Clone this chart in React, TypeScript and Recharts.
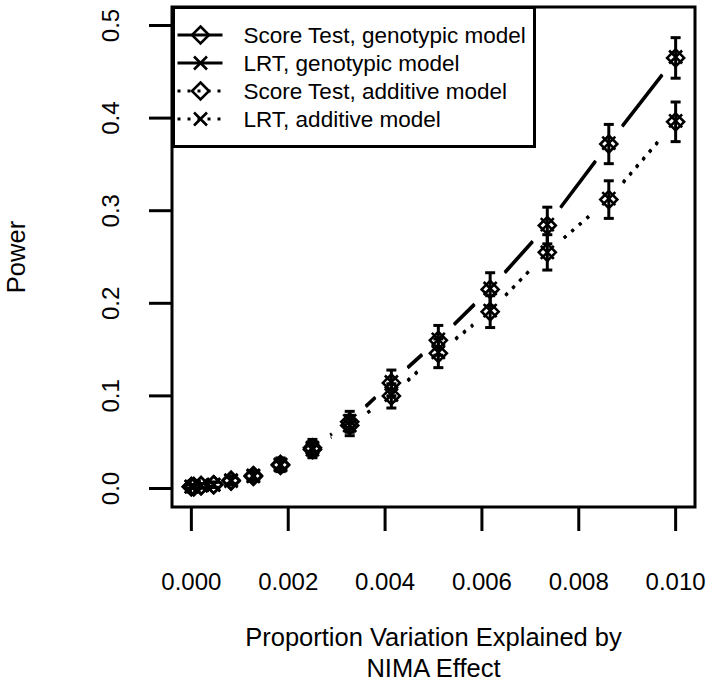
import React from 'react';
import { ComposedChart, Line, XAxis, YAxis, ErrorBar, ReferenceArea, Legend, Label } from 'recharts';

const effectSizes = [0, 0.00005, 0.0002, 0.00046, 0.00082, 0.00128, 0.00184, 0.0025, 0.00327, 0.00413, 0.0051, 0.00617, 0.00735, 0.00862, 0.01];
const scoreGenotypic = [0.002, 0.002, 0.003, 0.004, 0.009, 0.014, 0.026, 0.044, 0.072, 0.114, 0.16, 0.215, 0.284, 0.372, 0.465];
const lrtGenotypic = [0.002, 0.002, 0.003, 0.004, 0.009, 0.014, 0.026, 0.044, 0.073, 0.115, 0.161, 0.216, 0.285, 0.373, 0.466];
const scoreAdditive = [0.002, 0.002, 0.003, 0.004, 0.008, 0.013, 0.025, 0.042, 0.068, 0.1, 0.146, 0.191, 0.255, 0.312, 0.396];
const lrtAdditive = [0.002, 0.002, 0.003, 0.004, 0.008, 0.013, 0.025, 0.042, 0.068, 0.101, 0.147, 0.192, 0.255, 0.313, 0.397];
const ciGenotypic = [0.002, 0.002, 0.0024, 0.0028, 0.0041, 0.0051, 0.007, 0.009, 0.0113, 0.0139, 0.0161, 0.018, 0.0198, 0.0212, 0.0219];
const ciAdditive = [0.002, 0.002, 0.0024, 0.0028, 0.0039, 0.005, 0.0068, 0.0088, 0.011, 0.0131, 0.0155, 0.0172, 0.0191, 0.0203, 0.0214];
const xTicks = [0, 0.002, 0.004, 0.006, 0.008, 0.01];
const yTicks = [0, 0.1, 0.2, 0.3, 0.4, 0.5];
const seriesNames = ['Score Test, genotypic model', 'LRT, genotypic model', 'Score Test, additive model', 'LRT, additive model'];
const xTitle = ['Proportion Variation Explained by', 'NIMA Effect'];
const yTitle = 'Power';

const FONT = '"Liberation Sans", Arial, Helvetica, sans-serif';
const GAP = 22;
const D = 8.5;
const C = 6.5;
const MW = 2.6;
const LW = 3;
const DOTTED = '3 7';

const data = effectSizes.map((x, i) => ({
  x,
  sg: scoreGenotypic[i],
  lg: lrtGenotypic[i],
  sa: scoreAdditive[i],
  la: lrtAdditive[i],
  eg: ciGenotypic[i],
  ea: ciAdditive[i],
}));

type Shape = 'diamond' | 'cross';

function marker(shape: Shape, cx: number, cy: number) {
  if (shape === 'diamond') {
    return (
      <path
        d={`M${cx},${cy - D}L${cx + D},${cy}L${cx},${cy + D}L${cx - D},${cy}Z`}
        fill="none"
        stroke="#000"
        strokeWidth={MW}
      />
    );
  }
  return (
    <path
      d={`M${cx - C},${cy - C}L${cx + C},${cy + C}M${cx - C},${cy + C}L${cx + C},${cy - C}`}
      fill="none"
      stroke="#000"
      strokeWidth={MW}
    />
  );
}

function makeDot(shape: Shape, dash?: string) {
  return (props: any) => {
    const { cx, cy, index, points } = props;
    if (cx == null || cy == null) return <g key={`d-${index}`} />;
    let seg: React.ReactNode = null;
    if (points && index != null && index < points.length - 1) {
      const nx = points[index + 1].x;
      const ny = points[index + 1].y;
      const dx = nx - cx;
      const dy = ny - cy;
      const d = Math.hypot(dx, dy);
      if (d > 2 * GAP) {
        const ux = dx / d;
        const uy = dy / d;
        seg = (
          <line
            x1={cx + ux * GAP}
            y1={cy + uy * GAP}
            x2={nx - ux * GAP}
            y2={ny - uy * GAP}
            stroke="#000"
            strokeWidth={LW}
            strokeDasharray={dash}
          />
        );
      }
    }
    return (
      <g key={`d-${index}`}>
        {seg}
        {marker(shape, cx, cy)}
      </g>
    );
  };
}

const XTick = (props: any) => {
  const { x, y, payload } = props;
  return (
    <text x={x} y={y} dy="0.71em" textAnchor="middle" fontSize={24} fontFamily={FONT} fill="#000">
      {Number(payload.value).toFixed(3)}
    </text>
  );
};

const YTick = (props: any) => {
  const { x, y, payload } = props;
  return (
    <text
      x={x}
      y={y}
      transform={`rotate(-90, ${x}, ${y})`}
      textAnchor="middle"
      fontSize={24}
      fontFamily={FONT}
      fill="#000"
    >
      {Number(payload.value).toFixed(1)}
    </text>
  );
};

const XTitle = (props: any) => {
  const vb = props.viewBox || { x: 172, width: 523, y: 507 };
  const cx = vb.x + vb.width / 2;
  return (
    <g>
      <text x={cx} y={646} textAnchor="middle" fontSize={25.5} fontFamily={FONT} fill="#000">
        {xTitle[0]}
      </text>
      <text x={cx} y={677} textAnchor="middle" fontSize={25.5} fontFamily={FONT} fill="#000">
        {xTitle[1]}
      </text>
    </g>
  );
};

const YTitle = (props: any) => {
  const vb = props.viewBox || { y: 7, height: 500 };
  const cy = vb.y + vb.height / 2;
  const x = 25;
  return (
    <text
      x={x}
      y={cy}
      transform={`rotate(-90, ${x}, ${cy})`}
      textAnchor="middle"
      fontSize={25.5}
      fontFamily={FONT}
      fill="#000"
    >
      {yTitle}
    </text>
  );
};

const legendRows: { shape: Shape; dash?: string }[] = [
  { shape: 'diamond' },
  { shape: 'cross' },
  { shape: 'diamond', dash: DOTTED },
  { shape: 'cross', dash: DOTTED },
];

const LegendBox = () => (
  <svg width={364} height={142} style={{ display: 'block' }}>
    <rect x={1.5} y={1.5} width={361} height={139} fill="#fff" stroke="#000" strokeWidth={3} />
    {legendRows.map((r, i) => {
      const cy = 29 + i * 28;
      return (
        <g key={i}>
          <line x1={5.5} y1={cy} x2={50.5} y2={cy} stroke="#000" strokeWidth={LW} strokeDasharray={r.dash} />
          {marker(r.shape, 28.5, cy)}
          <text x={71.5} y={cy + 8} fontSize={22.5} fontFamily={FONT} fill="#000">
            {seriesNames[i]}
          </text>
        </g>
      );
    })}
  </svg>
);

export default function App() {
  return (
    <div style={{ position: 'absolute', left: 0, top: 0, background: '#fff' }}>
      <ComposedChart width={714} height={690} data={data} margin={{ top: 7, right: 19, bottom: 83, left: 72 }}>
        <XAxis
          dataKey="x"
          type="number"
          domain={[-0.0004, 0.0104]}
          ticks={xTicks}
          allowDataOverflow
          axisLine={false}
          tickLine={{ stroke: '#000', strokeWidth: 3 }}
          tickSize={24}
          tickMargin={42}
          tick={<XTick />}
          height={100}
          interval={0}
        >
          <Label content={<XTitle />} />
        </XAxis>
        <YAxis
          type="number"
          domain={[-0.02, 0.52]}
          ticks={yTicks}
          allowDataOverflow
          axisLine={false}
          tickLine={{ stroke: '#000', strokeWidth: 3 }}
          tickSize={23}
          tickMargin={30}
          tick={<YTick />}
          width={100}
          interval={0}
        >
          <Label content={<YTitle />} />
        </YAxis>
        <ReferenceArea
          x1={-0.0004}
          x2={0.0104}
          y1={-0.02}
          y2={0.52}
          fill="none"
          fillOpacity={0}
          stroke="#000"
          strokeWidth={3}
          ifOverflow="visible"
        />
        <Line dataKey="sa" stroke="none" isAnimationActive={false} dot={makeDot('diamond', DOTTED)} activeDot={false}>
          <ErrorBar dataKey="ea" width={5} strokeWidth={3} stroke="#000" direction="y" />
        </Line>
        <Line dataKey="la" stroke="none" isAnimationActive={false} dot={makeDot('cross', DOTTED)} activeDot={false} />
        <Line dataKey="sg" stroke="none" isAnimationActive={false} dot={makeDot('diamond')} activeDot={false}>
          <ErrorBar dataKey="eg" width={5} strokeWidth={3} stroke="#000" direction="y" />
        </Line>
        <Line dataKey="lg" stroke="none" isAnimationActive={false} dot={makeDot('cross')} activeDot={false} />
        <Legend
          layout="horizontal"
          verticalAlign="middle"
          align="center"
          content={() => <LegendBox />}
          wrapperStyle={{ position: 'absolute', left: 171.5, top: 5.5, width: 364, height: 142, bottom: 'auto', right: 'auto' }}
        />
      </ComposedChart>
    </div>
  );
}
